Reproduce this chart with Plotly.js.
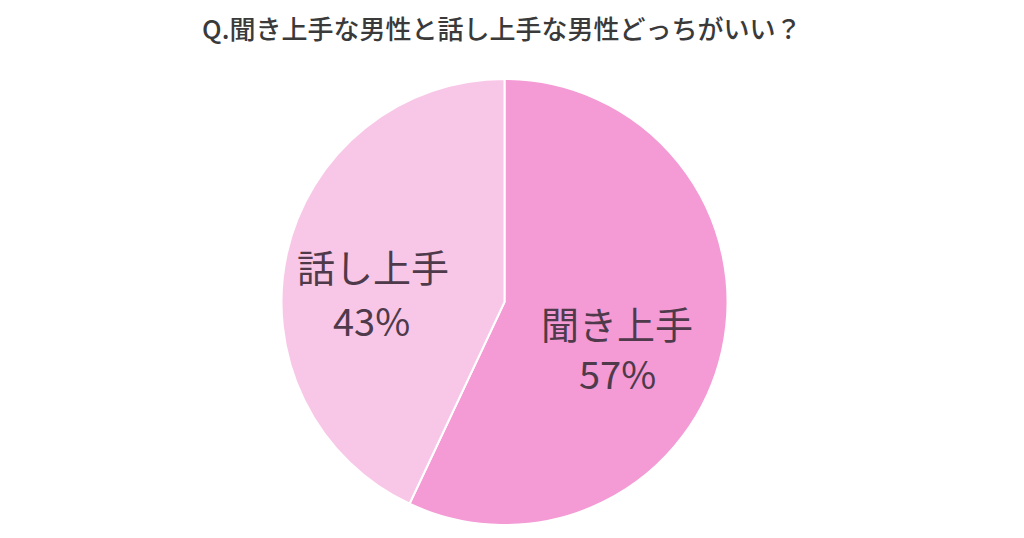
<!DOCTYPE html>
<html>
<head>
<meta charset="utf-8">
<script src="https://cdn.plot.ly/plotly-3.0.1.min.js"></script>
<style>html,body{margin:0;padding:0;background:#fff;}#chart{width:1024px;height:538px;}</style>
</head>
<body>
<div id="chart"></div>
<script>
const titleText = "Q.聞き上手な男性と話し上手な男性どっちがいい？";
const labels = ["聞き上手", "話し上手"];
const values = [57, 43];
const colors = ["#F49AD4", "#F8C7E7"];
const labelPos = [[617, 322], [373, 265]];   // pixel centers of category labels
const percentPos = [[617, 372], [371, 319]]; // pixel centers of percent labels

const W = 1024, H = 538;
const textFont = {family: "Noto Sans CJK JP, sans-serif", size: 38, color: "#4e3a4a"};
const mk = (t, p) => ({
  text: t, x: p[0] / W, y: 1 - p[1] / H,
  xref: "paper", yref: "paper", showarrow: false,
  xanchor: "center", yanchor: "middle", font: textFont
});
const annotations = [];
labels.forEach((l, i) => {
  annotations.push(mk(l, labelPos[i]));
  annotations.push(mk(values[i] + "%", percentPos[i]));
});

const trace = {
  type: "pie",
  labels: labels,
  values: values,
  sort: false,
  direction: "clockwise",
  rotation: 0,
  textinfo: "none",
  hoverinfo: "none",
  marker: {colors: colors, line: {color: "#ffffff", width: 2}},
  domain: {x: [(504.5 - 223) / W, (504.5 + 223) / W], y: [1 - 525 / H, 1 - 79 / H]},
  showlegend: false
};

const layout = {
  width: W, height: H,
  margin: {l: 0, r: 0, t: 0, b: 0},
  paper_bgcolor: "#ffffff",
  title: {
    text: titleText,
    x: 0.49, xanchor: "center",
    y: 1 - 30 / H, yanchor: "middle",
    font: {family: "Noto Sans CJK JP, sans-serif", size: 26, color: "#3a3a3a", weight: 500}
  },
  annotations: annotations,
  showlegend: false
};

Plotly.newPlot("chart", [trace], layout, {displayModeBar: false, staticPlot: true});
</script>
</body>
</html>
